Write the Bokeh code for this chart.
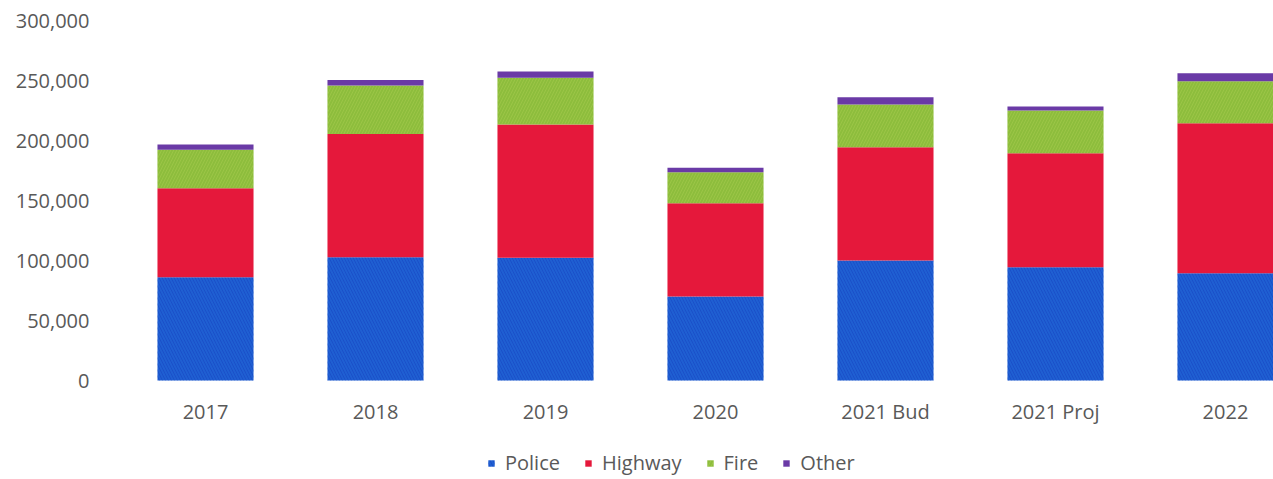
from bokeh.plotting import figure
from bokeh.models import Range1d, FixedTicker, NumeralTickFormatter, Legend, LegendItem, ColumnDataSource
from bokeh.embed import file_html
from bokeh.resources import INLINE

categories = ["2017", "2018", "2019", "2020", "2021 Bud", "2021 Proj", "2022"]
police  = [86000, 102800, 102200, 70000, 100000, 94400, 89400]
highway = [74300, 102700, 111100, 77800, 94400, 95000, 125000]
fire    = [31900, 40300, 38900, 25800, 35600, 35600, 35000]
other   = [4500, 4700, 5300, 3600, 6100, 3300, 6700]
y_ticks = [0, 50000, 100000, 150000, 200000, 250000, 300000]

series = [("Police", police, "#1f5fd2", "\\", "#0f35b8"),
          ("Highway", highway, "#e5183b", None, None),
          ("Fire", fire, "#8dbd3c", "/", "#b5d35a"),
          ("Other", other, "#6a3aa6", None, None)]

FONT = "Open Sans"
TXT = "#595959"

p = figure(width=1273, height=479, output_backend="svg", toolbar_location=None,
           x_range=Range1d(-0.5, 6.2824), y_range=Range1d(-82500, 300000),
           min_border_top=20, min_border_left=120, min_border_right=0, min_border_bottom=0)
p.outline_line_color = None
p.grid.grid_line_color = None
p.background_fill_color = "white"
p.border_fill_color = "white"

xs = list(range(len(categories)))
bottom = [0] * len(categories)
items = []
for name, vals, col, hp, hc in series:
    top = [b + v for b, v in zip(bottom, vals)]
    src = ColumnDataSource(dict(x=xs, bottom=bottom, top=top))
    kw = {}
    if hp:
        kw = dict(hatch_pattern=hp, hatch_color=hc, hatch_alpha=0.35, hatch_scale=6, hatch_weight=1)
    r = p.vbar(x="x", bottom="bottom", top="top", width=0.565, source=src,
               fill_color=col, line_color=None, **kw)
    items.append(LegendItem(label=name, renderers=[r]))
    bottom = top

p.xaxis.ticker = FixedTicker(ticks=xs)
p.xaxis.major_label_overrides = {i: c for i, c in enumerate(categories)}
p.xaxis.fixed_location = 0
p.yaxis.ticker = FixedTicker(ticks=y_ticks)
p.yaxis.formatter = NumeralTickFormatter(format="0,0")
for ax in (p.xaxis, p.yaxis):
    ax.axis_line_color = None
    ax.major_tick_line_color = None
    ax.minor_tick_line_color = None
    ax.major_tick_out = 0
    ax.major_tick_in = 0
    ax.major_label_text_font = FONT
    ax.major_label_text_font_size = "20px"
    ax.major_label_text_color = TXT
p.yaxis.major_label_standoff = 31
p.xaxis.major_label_standoff = 17

legend = Legend(items=items, orientation="horizontal", location=(367, 3),
                glyph_width=8, glyph_height=8, label_standoff=10, spacing=24,
                padding=0, margin=0, border_line_color=None, background_fill_alpha=0,
                label_text_font=FONT, label_text_font_size="20px", label_text_color=TXT,
                label_height=20)
p.add_layout(legend, "center")

open("out.html", "w").write(file_html(p, INLINE))
